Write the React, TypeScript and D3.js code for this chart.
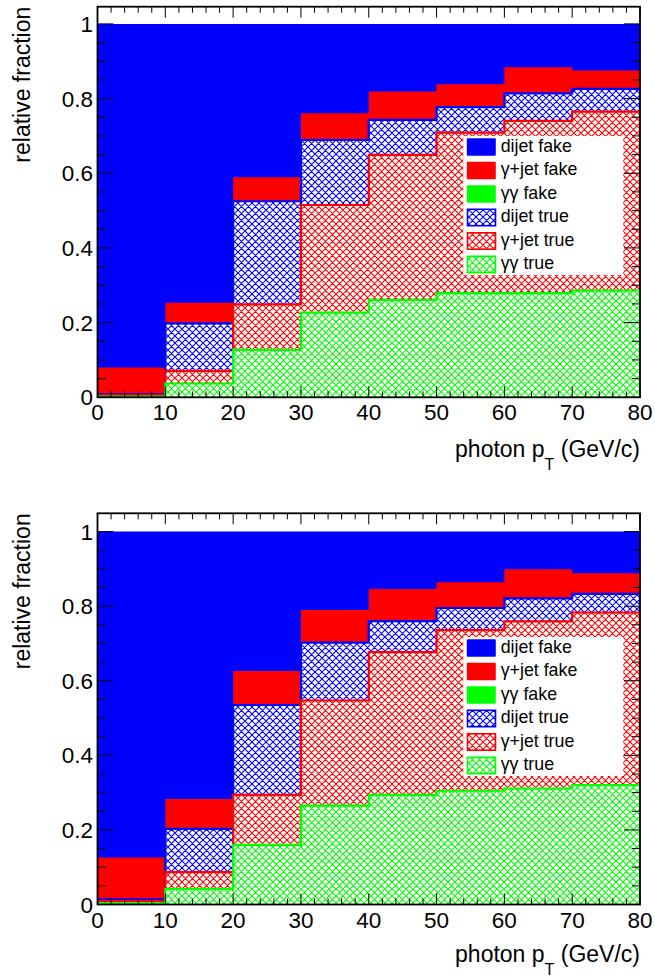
import React from "react";
import * as d3 from "d3";

// ---------- data ----------
const binEdges = [0, 10, 20, 30, 40, 50, 60, 70, 80];
const xTicksMajor = [0, 10, 20, 30, 40, 50, 60, 70, 80];
const yTicksMajor = [0, 0.2, 0.4, 0.6, 0.8, 1];
const yTickLabels = ["0", "0.2", "0.4", "0.6", "0.8", "1"];

// stacking order bottom -> top
const seriesKeys = ["ggTrue", "gjTrue", "djTrue", "ggFake", "gjFake", "djFake"];
const seriesLabels = ["γγ true", "γ+jet true", "dijet true", "γγ fake", "γ+jet fake", "dijet fake"];
const seriesColors = ["#00ff00", "#ff0000", "#0000ff", "#00ff00", "#ff0000", "#0000ff"];
const seriesHatched = [true, true, true, false, false, false];
// legend order (top -> bottom)
const legendKeys = ["djFake", "gjFake", "ggFake", "djTrue", "gjTrue", "ggTrue"];

// upper panel
const topGgTrue = [0.002, 0.037, 0.127, 0.227, 0.261, 0.279, 0.279, 0.286];
const topGjTrue = [0.003, 0.034, 0.122, 0.288, 0.388, 0.43, 0.461, 0.479];
const topDjTrue = [0.003, 0.127, 0.276, 0.174, 0.094, 0.068, 0.074, 0.061];
const topGgFake = [0, 0, 0, 0, 0, 0, 0, 0];
const topGjFake = [0.072, 0.055, 0.064, 0.072, 0.076, 0.061, 0.07, 0.049];
const topDjFake = [0.92, 0.747, 0.411, 0.239, 0.181, 0.162, 0.116, 0.125];

// lower panel
const botGgTrue = [0.003, 0.042, 0.16, 0.265, 0.294, 0.305, 0.311, 0.32];
const botGjTrue = [0.006, 0.045, 0.134, 0.282, 0.383, 0.431, 0.448, 0.463];
const botDjTrue = [0.005, 0.116, 0.241, 0.155, 0.083, 0.059, 0.062, 0.05];
const botGgFake = [0, 0, 0, 0, 0, 0, 0, 0];
const botGjFake = [0.112, 0.08, 0.091, 0.088, 0.086, 0.069, 0.078, 0.055];
const botDjFake = [0.874, 0.717, 0.374, 0.21, 0.154, 0.136, 0.101, 0.112];

const topSeries = [topGgTrue, topGjTrue, topDjTrue, topGgFake, topGjFake, topDjFake];
const botSeries = [botGgTrue, botGjTrue, botDjTrue, botGgFake, botGjFake, botDjFake];

// ---------- layout ----------
const W = 655;
const H = 977;
const plotLeft = 97.5;
const plotRight = 640;
const FONT = "'Liberation Sans', Arial, Helvetica, sans-serif";

const panels = [
  { id: "p1", frameTop: 6.7, axisY: 397.3, yMax: 1.046, legendTop: 136, titleDy: 60, series: topSeries },
  { id: "p2", frameTop: 513.3, axisY: 904.5, yMax: 1.049, legendTop: 637, titleDy: 57, series: botSeries },
];

const colorName = (c: string) => (c === "#00ff00" ? "green" : c === "#ff0000" ? "red" : "blue");

function Panel({ p }: { p: (typeof panels)[number] }) {
  const x = d3.scaleLinear().domain([0, 80]).range([plotLeft, plotRight]);
  const y = d3.scaleLinear().domain([0, p.yMax]).range([p.axisY, p.frameTop]);

  const rows = binEdges.slice(0, -1).map((e, i) => {
    const r: any = { x: e };
    seriesKeys.forEach((k, j) => (r[k] = p.series[j][i]));
    return r;
  });
  const stacked = d3.stack<any>().keys(seriesKeys)(rows);

  const area = d3
    .area<{ x: number; v: number }>()
    .x((d) => x(d.x))
    .y0(y(0))
    .y1((d) => y(d.v))
    .curve(d3.curveStepAfter);
  const line = d3
    .line<{ x: number; v: number }>()
    .x((d) => x(d.x))
    .y((d) => y(d.v))
    .curve(d3.curveStepAfter);

  const layers = stacked.map((s, j) => {
    const tops = s.map((d) => d[1]);
    const pts = binEdges.map((e, i) => ({ x: e, v: tops[Math.min(i, tops.length - 1)] }));
    const outline = [{ x: 0, v: 0 }, ...pts, { x: 80, v: 0 }];
    return { j, areaD: area(pts) as string, lineD: line(outline) as string };
  });

  const clipId = `clip-${p.id}`;
  const yMinor = d3.range(0, p.yMax + 1e-9, 0.05);
  const xMinor = d3.range(0, 80.001, 2);

  const lx0 = 463.3;
  const lx1 = 623.3;

  return (
    <g>
      <clipPath id={clipId}>
        <rect x={plotLeft} y={p.frameTop} width={plotRight - plotLeft} height={p.axisY - p.frameTop} />
      </clipPath>
      <rect x={plotLeft} y={p.frameTop} width={plotRight - plotLeft} height={p.axisY - p.frameTop} fill="#fff" />
      <g clipPath={`url(#${clipId})`}>
        {layers
          .slice()
          .reverse()
          .map((l) => {
            const c = seriesColors[l.j];
            if (!seriesHatched[l.j]) {
              return <path key={l.j} d={l.areaD} fill={c} stroke="none" />;
            }
            return (
              <g key={l.j}>
                <path d={l.areaD} fill="#fff" />
                <path d={l.areaD} fill={`url(#hatch-${colorName(c)})`} />
                <path d={l.lineD} fill="none" stroke={c} strokeWidth={2.2} />
              </g>
            );
          })}
      </g>

      {/* legend */}
      <rect x={lx0} y={p.legendTop} width={lx1 - lx0} height={139} fill="#fff" />
      {legendKeys.map((k, i) => {
        const j = seriesKeys.indexOf(k);
        const c = seriesColors[j];
        const sy = p.legendTop + 2.3 + i * 23.5;
        return (
          <g key={k}>
            {seriesHatched[j] ? (
              <>
                <rect x={467.5} y={sy + 0.5} width={28} height={16.4} fill="#fff" />
                <rect x={467.5} y={sy + 0.5} width={28} height={16.4} fill={`url(#hatch-${colorName(c)})`} stroke={c} strokeWidth={1.6} />
              </>
            ) : (
              <rect x={466.8} y={sy} width={29} height={17.4} fill={c} rx={1} />
            )}
            <text x={500.7} y={sy + 13.4} fontSize={17.8} fontFamily={FONT} fill="#000">
              {seriesLabels[j]}
            </text>
          </g>
        );
      })}

      {/* ticks */}
      <g stroke="#000" strokeWidth={1}>
        {yMinor.map((v, i) => {
          const major = Math.abs(v / 0.2 - Math.round(v / 0.2)) < 1e-6;
          const len = major ? 16 : 8;
          return (
            <g key={"y" + i}>
              <line x1={plotLeft} x2={plotLeft + len} y1={y(v)} y2={y(v)} />
              <line x1={plotRight} x2={plotRight - len} y1={y(v)} y2={y(v)} />
            </g>
          );
        })}
        {xMinor.map((v, i) => {
          const major = v % 10 === 0;
          const len = major ? 11 : 6;
          return (
            <g key={"x" + i}>
              <line x1={x(v)} x2={x(v)} y1={p.axisY} y2={p.axisY - len} />
              <line x1={x(v)} x2={x(v)} y1={p.frameTop} y2={p.frameTop + len} />
            </g>
          );
        })}
      </g>

      {/* frame */}
      <rect
        x={plotLeft}
        y={p.frameTop}
        width={plotRight - plotLeft}
        height={p.axisY - p.frameTop}
        fill="none"
        stroke="#000"
        strokeWidth={1.8}
      />

      {/* tick labels */}
      {yTicksMajor.map((v, i) => (
        <text key={"yl" + i} x={93} y={y(v) + 8} textAnchor="end" fontSize={22.5} fontFamily={FONT} fill="#000">
          {yTickLabels[i]}
        </text>
      ))}
      {xTicksMajor.map((v) => (
        <text key={"xl" + v} x={x(v)} y={p.axisY + 23} textAnchor="middle" fontSize={22.5} fontFamily={FONT} fill="#000">
          {v}
        </text>
      ))}

      {/* axis titles */}
      <text
        transform={`translate(30,${p.frameTop}) rotate(-90)`}
        textAnchor="end"
        fontSize={23}
        fontFamily={FONT}
        fill="#000"
      >
        relative fraction
      </text>
      <text x={plotRight} y={p.axisY + p.titleDy} textAnchor="end" fontSize={23} fontFamily={FONT} fill="#000">
        photon p
        <tspan fontSize={16} dy={13}>
          T
        </tspan>
        <tspan dy={-13}> (GeV/c)</tspan>
      </text>
    </g>
  );
}

export default function App() {
  const pitch = 7;
  return (
    <svg
      width={W}
      height={H}
      viewBox={`0 0 ${W} ${H}`}
      style={{ position: "absolute", left: 0, top: 0, display: "block", background: "#fff" }}
    >
      <defs>
        {["blue", "red", "green"].map((n) => {
          const c = n === "blue" ? "#0000ff" : n === "red" ? "#ff0000" : "#00ff00";
          return (
            <pattern key={n} id={`hatch-${n}`} patternUnits="userSpaceOnUse" width={pitch} height={pitch}>
              <path
                d={`M0,0 L${pitch},${pitch} M0,${pitch} L${pitch},0 M-1,1 L1,-1 M${pitch - 1},${pitch + 1} L${pitch + 1},${pitch - 1}`}
                stroke={c}
                strokeWidth={1.1}
                fill="none"
              />
            </pattern>
          );
        })}
      </defs>
      <rect x={0} y={0} width={W} height={H} fill="#fff" />
      {panels.map((p) => (
        <Panel key={p.id} p={p} />
      ))}
    </svg>
  );
}
